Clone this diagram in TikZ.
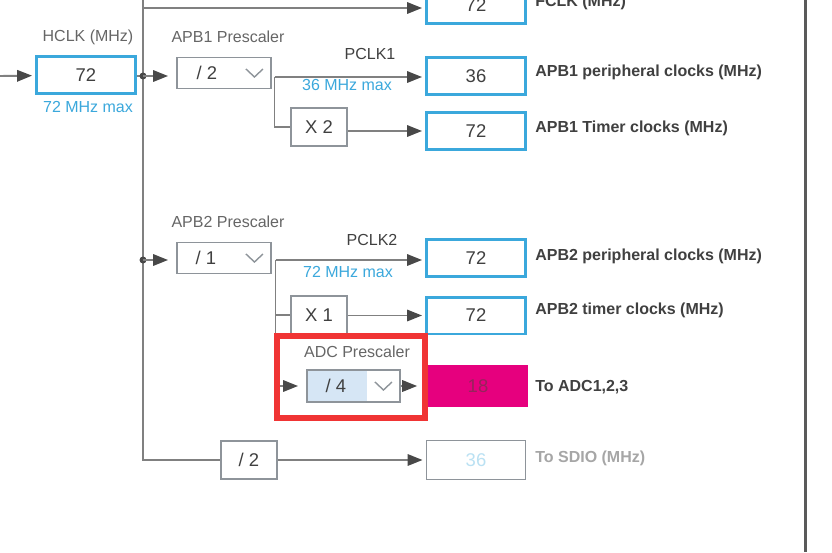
\documentclass[tikz,border=0pt]{standalone}
\usepackage{fontspec}
\setmainfont{Liberation Sans}
\usepackage{tikz}
\usetikzlibrary{arrows.meta, calc}
\definecolor{clkB}{RGB}{59,168,220}
\definecolor{clkR}{RGB}{240,52,52}
\definecolor{clkM}{RGB}{230,0,126}
\definecolor{clkD}{RGB}{150,36,92}
\definecolor{clkW}{RGB}{128,128,128}
\definecolor{clkA}{RGB}{72,72,72}
\definecolor{clkF}{RGB}{142,148,154}
\definecolor{clkT}{RGB}{64,64,64}
\definecolor{clkL}{RGB}{214,230,245}
\newcommand{\valfont}{\fontsize{10.5pt}{12pt}\selectfont}
\newcommand{\lblfont}{\fontsize{9.1pt}{11pt}\selectfont}
\newcommand{\ddchev}[1]{\draw[clkF, line width=0.8pt] ([shift={(-26,-4)}]#1.east) -- ++(8.5,8) -- ++(8.5,-8);}

\begin{document}
\begin{tikzpicture}[x=0.02cm, y=-0.02cm,
  wire/.style={clkW, line width=1.1pt},
  arr/.style={wire, -{Triangle[length=8.5pt,width=6.5pt,color=clkA]}, shorten >=0.06cm},
  arrg/.style={arr, shorten >=0.16cm},
  lbl/.style={font=\lblfont, text=clkT!80, inner sep=0pt},
  outlbl/.style={lbl, font=\lblfont\bfseries, anchor=west, text=clkT},
  val/.style={font=\valfont, text=clkT, inner sep=0pt},
  valbox/.style={val, draw=clkB, line width=1.7pt, minimum width=1.98cm, minimum height=0.74cm},
  ddbox/.style={draw=clkF, line width=1.1pt, fill=white, minimum width=1.88cm, minimum height=0.62cm, inner sep=0pt},
  mulbox/.style={val, draw=clkF, line width=1.1pt, minimum width=1.12cm, minimum height=0.76cm},
  magbox/.style={val, fill=clkM, text=clkD, minimum width=2.02cm, minimum height=0.84cm},
  greybox/.style={val, draw=clkF, line width=1.1pt, text=clkB!35, minimum width=1.98cm, minimum height=0.78cm},
  hilite/.style={draw=clkR, line width=3.1pt, minimum width=2.96cm, minimum height=1.64cm, inner sep=0pt}]
\useasboundingbox (0,0) rectangle (832,552);
\clip (0,0) rectangle (832,552);
\fill[white] (0,0) rectangle (832,552);
% HCLK input
\coordinate (in) at (0,76);
\node[valbox] (hclk) at (86,75) {72};
\node[lbl] (hclkname) at (88,37) {HCLK (MHz)};
\node[lbl, text=clkB] (hclkmax) at (88,107) {72 MHz max};
% trunk and FCLK
\coordinate (top) at (143,-5);
\coordinate (fk) at (143,8);
\coordinate (d1) at (143,76);
\coordinate (d2) at (143,260);
\node[valbox] (fclk) at (476,5) {72};
\node[outlbl] (fclkname) at (535,2) {FCLK (MHz)};
% APB1 branch
\node[ddbox] (apbone) at (224,73) {};
\node[val] (apbonediv) at ([shift={(-17,0)}]apbone.center) {/ 2};
\ddchev{apbone}
\node[lbl] (apbonename) at (228,37) {APB1 Prescaler};
\coordinate (aone) at (274.5,77);
\node[valbox] (perone) at (476,76) {36};
\node[outlbl] (peronename) at (535,72.5) {APB1 peripheral clocks (MHz)};
\node[lbl, text=clkT] (pclkone) at (370,54) {PCLK1};
\node[lbl, text=clkB] (maxone) at (347,85) {36 MHz max};
\node[mulbox] (xtwo) at (319,127) {X 2};
\node[valbox] (timone) at (476,131) {72};
\node[outlbl] (timonename) at (535,128) {APB1 Timer clocks (MHz)};
% APB2 branch
\node[ddbox] (apbtwo) at (224,258) {};
\node[val] (apbtwodiv) at ([shift={(-18,0)}]apbtwo.center) {/ 1};
\ddchev{apbtwo}
\node[lbl] (apbtwoname) at (228,222) {APB2 Prescaler};
\coordinate (atwo) at (275.5,260);
\node[valbox] (pertwo) at (476,258) {72};
\node[outlbl] (pertwoname) at (535,256) {APB2 peripheral clocks (MHz)};
\node[lbl, text=clkT] (pclktwo) at (372,240) {PCLK2};
\node[lbl, text=clkB] (maxtwo) at (348,272) {72 MHz max};
\node[mulbox] (xone) at (319,315) {X 1};
\node[valbox] (timtwo) at (476,315.5) {72};
\node[outlbl] (timtwoname) at (535,310) {APB2 timer clocks (MHz)};
% ADC prescaler
\node[lbl] (adcname) at (357,352) {ADC Prescaler};
\node[ddbox, minimum width=1.86cm, minimum height=0.64cm,
  path picture={\fill[clkL] (path picture bounding box.north west) rectangle ([xshift=-0.66cm]path picture bounding box.south east);}] (adc) at (353.5,386) {};
\node[val] (adcdiv) at (336,386) {/ 4};
\ddchev{adc}
\node[magbox] (adcout) at (478,386) {18};
\node[outlbl] (adcoutname) at (535,387) {To ADC1,2,3};
% SDIO
\node[mulbox] (sdiodiv) at (249,460) {/ 2};
\node[greybox] (sdio) at (476,460) {36};
\node[outlbl, text=gray!70] (sdioname) at (535,458) {To SDIO (MHz)};
% wires
\draw[arr] (in) -- (hclk);
\draw[wire] (hclk.east |- d1) -- (d1);
\draw[wire] (top) |- (sdiodiv.west);
\draw[arr] (fk) -- (fk -| fclk.west);
\fill[clkA] (d1) circle[radius=3.5];
\fill[clkA] (d2) circle[radius=3.5];
\draw[arrg] (d1) -- (apbone.west |- d1);
\draw[arr] (aone) -- (aone -| perone.west);
\draw[wire] (aone) |- (xtwo.west);
\draw[arr] (xtwo.east |- timone) -- (timone.west);
\draw[arrg] (d2) -- (apbtwo.west |- d2);
\draw[arr] (atwo) -- (atwo -| pertwo.west);
\draw[wire] (atwo) |- (xone.west);
\draw[arr] (xone.east |- timtwo) -- (timtwo.west);
\draw[arrg] (atwo) |- (adc.west);
\draw[arr, shorten >=0.2cm] (adc.east) -- (adcout.west);
\draw[arr] (sdiodiv) -- (sdio);
% highlight and frame edge
\node[hilite] (adcmark) at (351,377) {};
\draw[clkA!90, line width=1.7pt] (805,0) -- (805,552);
\end{tikzpicture}
\end{document}
